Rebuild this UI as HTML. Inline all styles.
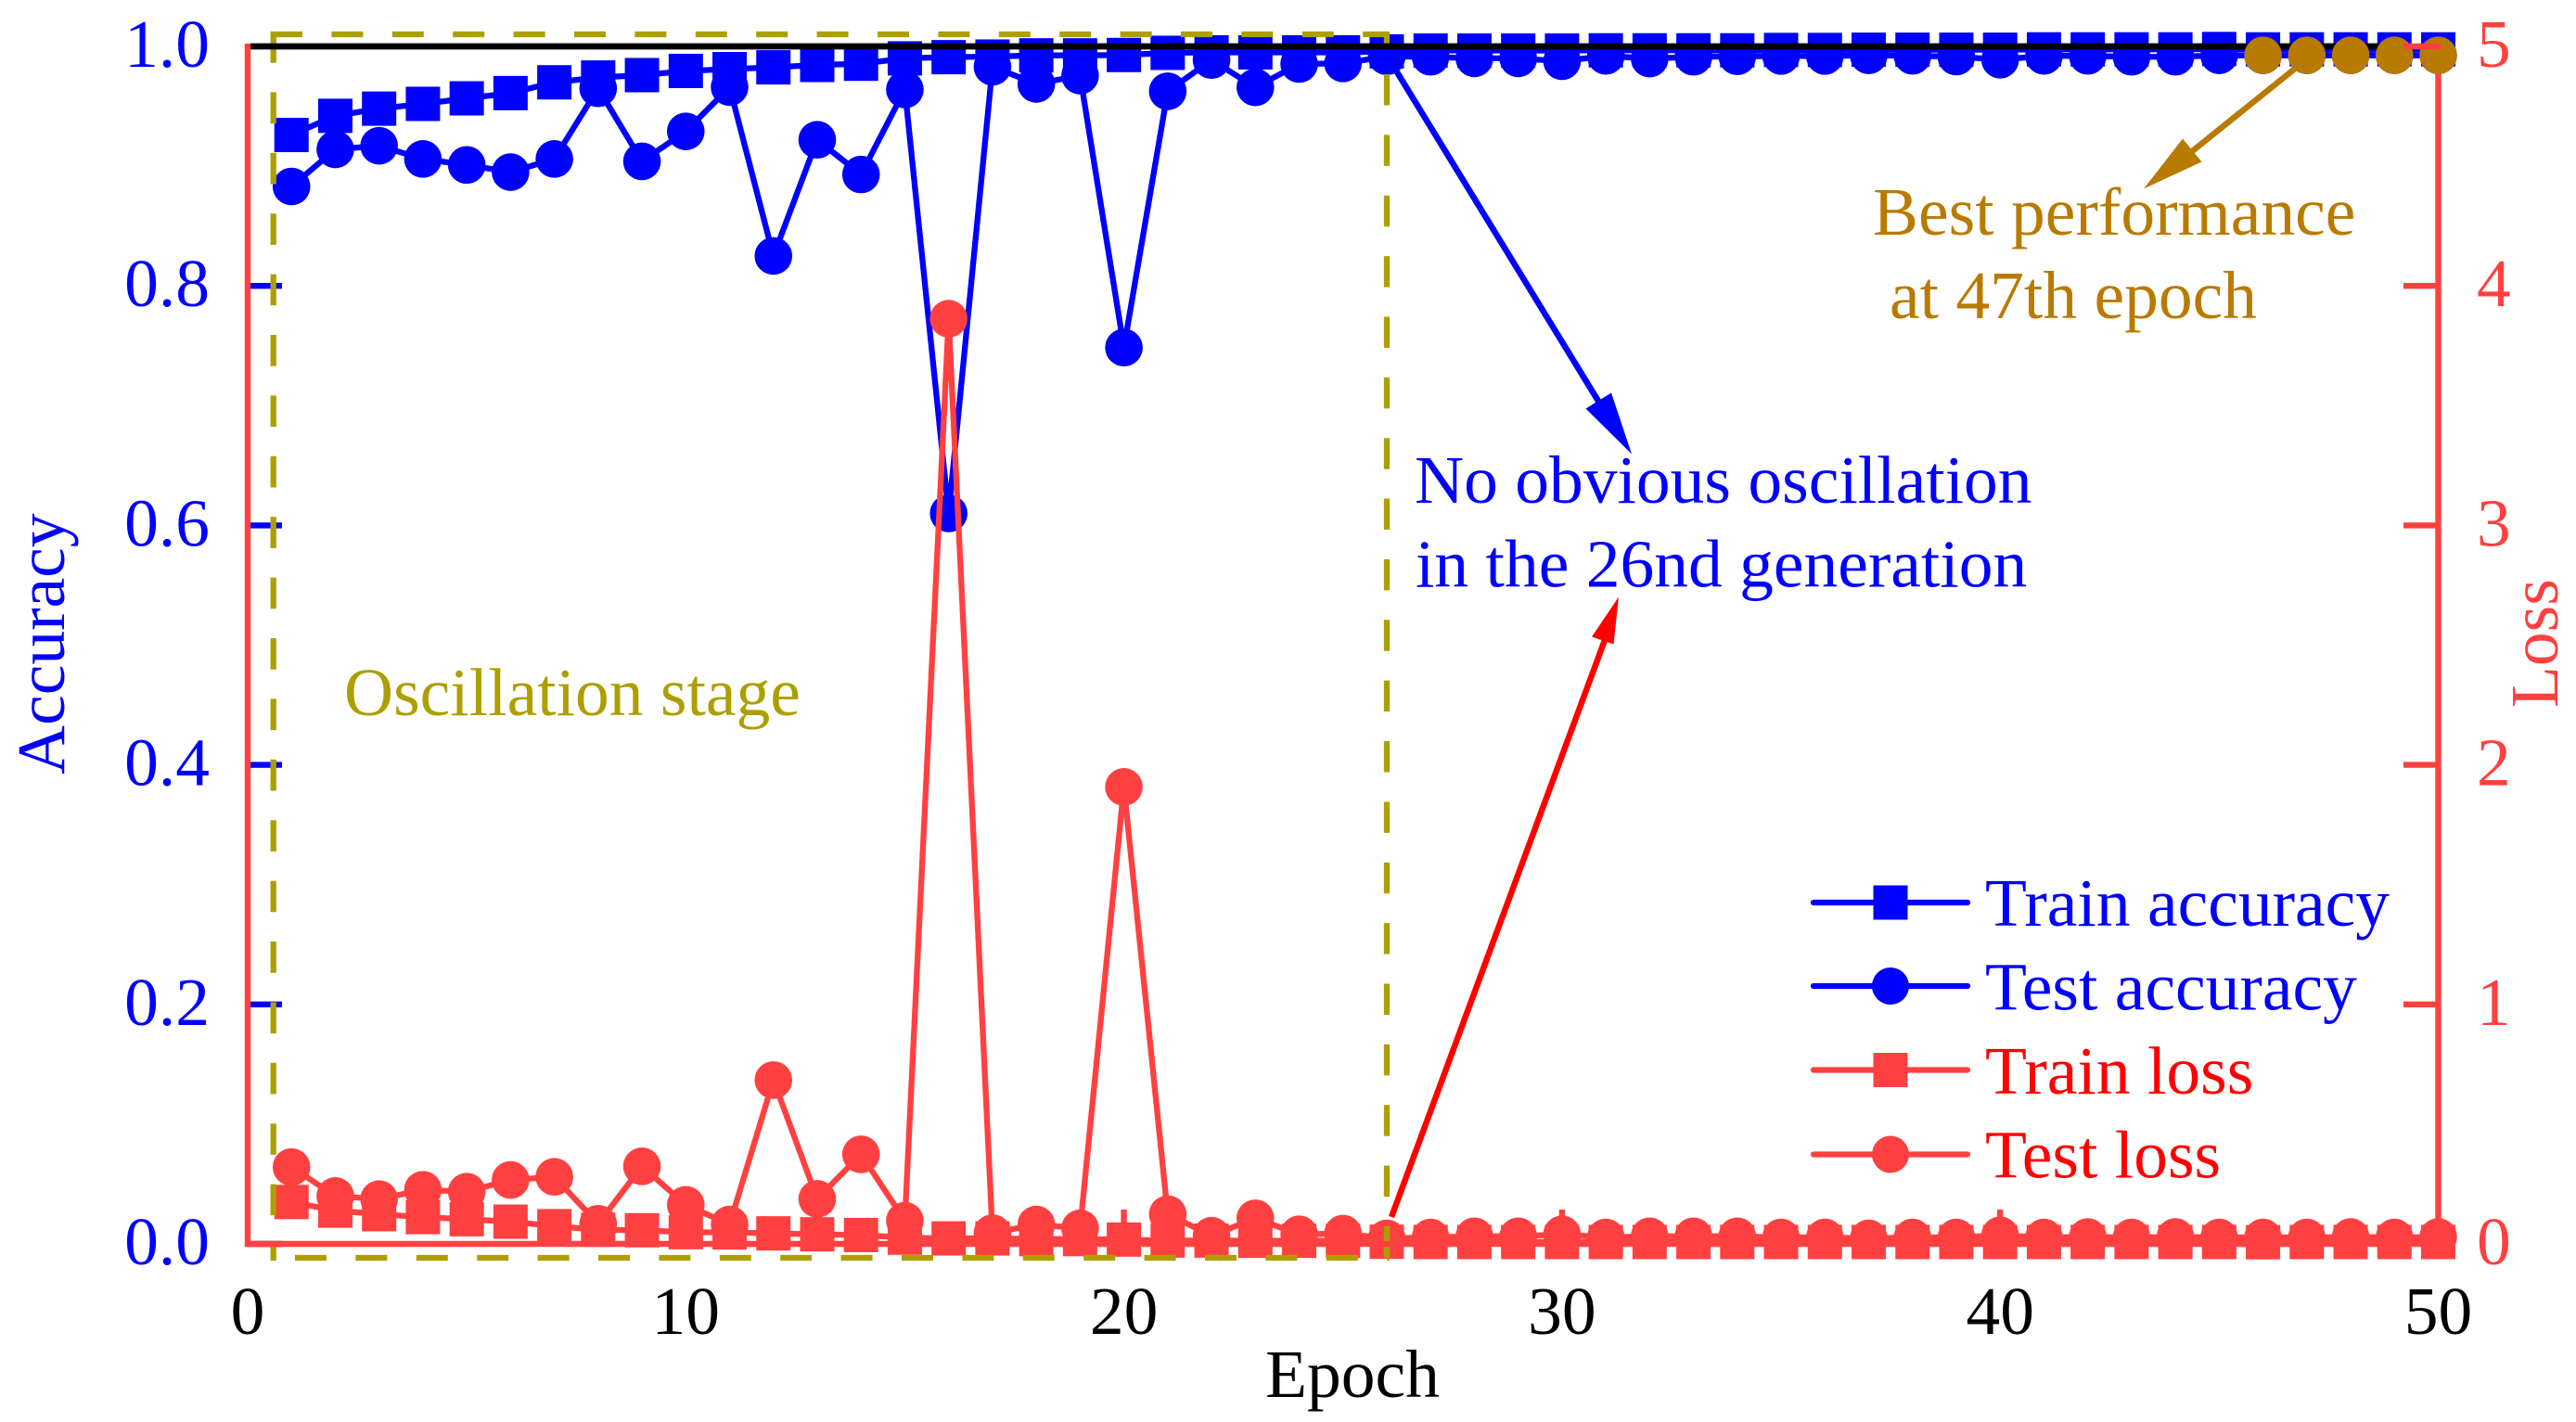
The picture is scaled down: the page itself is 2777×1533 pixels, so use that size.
<!DOCTYPE html>
<html lang="en">
<head>
<meta charset="utf-8">
<title>Accuracy and loss per epoch</title>
<style>
html,body{margin:0;padding:0;background:#fff;}
svg{display:block;font-family:"Liberation Serif","Times New Roman",serif;font-size:73.5px;}
</style>
</head>
<body>
<svg id="chart" xmlns="http://www.w3.org/2000/svg" width="2777" height="1533" viewBox="0 0 2777 1533">
  <rect x="0" y="0" width="2777" height="1533" fill="#fff"/>
  <g id="left-ticks"></g>
  <g id="marks-blue"></g>
  <g id="marks-red"></g>

  <g stroke="#ae9f00" stroke-width="6.3" fill="none">
    <line x1="292" y1="37" x2="1498" y2="37" stroke-dasharray="34 31.4"/>
    <line x1="294.7" y1="34" x2="294.7" y2="1359" stroke-dasharray="33.7 31.7"/>
    <line x1="318" y1="1356" x2="1498" y2="1356" stroke-dasharray="34 31.4"/>
    <line x1="1495" y1="37" x2="1495" y2="1356" stroke-dasharray="33.5 31.87" stroke-dashoffset="22.4"/>
  </g>

  <g id="frame">
    <line x1="270" y1="50" x2="2591" y2="50" stroke="#000" stroke-width="6.8"/>
    <line x1="267" y1="47" x2="267" y2="1344" stroke="#ff4040" stroke-width="6.4"/>
    <line x1="264" y1="1341" x2="2631" y2="1341" stroke="#ff4040" stroke-width="6.4"/>
    <line x1="2628.5" y1="47" x2="2628.5" y2="1344" stroke="#ff4040" stroke-width="6.4"/>
  </g>
  <g id="best-marks"></g>
  <g id="other-ticks"></g>
  <g id="tick-labels"></g>

  <text x="1458" y="1506" text-anchor="middle" fill="#000">Epoch</text>
  <text transform="translate(69 835) rotate(-90)" fill="#0000ff">Accuracy</text>
  <text transform="translate(2757 763) rotate(-90)" fill="#ff4040">Loss</text>

  <text x="371" y="771" fill="#ad9f00">Oscillation stage</text>
  <text x="1525" y="542" fill="#0000ff">No obvious oscillation</text>
  <text x="1526" y="632.5" fill="#0000ff">in the 26nd generation</text>
  <text x="2019" y="253" fill="#b97a00">Best performance</text>
  <text x="2037" y="343" fill="#b97a00">at 47th epoch</text>

  <g>
    <line x1="1497" y1="63" x2="1724" y2="434" stroke="#0000ff" stroke-width="6.5"/>
    <polygon points="1759,489.5 1709.5,440.5 1737,423.5" fill="#0000ff"/>
  </g>
  <g>
    <line x1="1500" y1="1312" x2="1730" y2="690" stroke="#ff0000" stroke-width="6.5"/>
    <polygon points="1745,643.5 1716,686.5 1739.5,694.5" fill="#ff0000"/>
  </g>
  <g>
    <line x1="2474" y1="74" x2="2362" y2="164" stroke="#b97a00" stroke-width="6.5"/>
    <polygon points="2311,203.5 2353,149.5 2373.5,174.5" fill="#b97a00"/>
  </g>

  <g>
    <g>
      <line x1="1955" y1="973" x2="2121" y2="973" stroke="#0000ff" stroke-width="6.2" stroke-linecap="round"/>
      <rect x="2019.5" y="954.5" width="37" height="37" fill="#0000ff"/>
      <text x="2140" y="998" fill="#0000ff">Train accuracy</text>
    </g>
    <g>
      <line x1="1955" y1="1063" x2="2121" y2="1063" stroke="#0000ff" stroke-width="6.2" stroke-linecap="round"/>
      <circle cx="2038" cy="1063" r="20" fill="#0000ff"/>
      <text x="2140" y="1088.5" fill="#0000ff">Test accuracy</text>
    </g>
    <g>
      <line x1="1955" y1="1153.5" x2="2121" y2="1153.5" stroke="#ff4040" stroke-width="6.2" stroke-linecap="round"/>
      <rect x="2019.5" y="1135" width="37" height="37" fill="#ff4040"/>
      <text x="2140" y="1179" fill="#ff0000">Train loss</text>
    </g>
    <g>
      <line x1="1955" y1="1244.5" x2="2121" y2="1244.5" stroke="#ff4040" stroke-width="6.2" stroke-linecap="round"/>
      <circle cx="2038" cy="1244.5" r="20" fill="#ff4040"/>
      <text x="2140" y="1269.5" fill="#ff0000">Test loss</text>
    </g>
  </g>
</svg>

<script>
const epochs = [1,2,3,4,5,6,7,8,9,10,11,12,13,14,15,16,17,18,19,20,21,22,23,24,25,26,27,28,29,30,31,32,33,34,35,36,37,38,39,40,41,42,43,44,45,46,47,48,49,50];
const trainAccuracy = [0.926,0.942,0.948,0.952,0.9566,0.961,0.970,0.974,0.976,0.9795,0.981,0.9825,0.9845,0.9855,0.990,0.991,0.9915,0.9925,0.9925,0.9928,0.9946,0.995,0.995,0.995,0.995,0.9958,0.9965,0.9965,0.9965,0.9965,0.9967,0.9967,0.9967,0.9967,0.997,0.997,0.9972,0.9972,0.9972,0.9972,0.9975,0.9975,0.9975,0.9975,0.9978,0.9975,0.9975,0.9975,0.9975,0.9975];
const testAccuracy = [0.883,0.914,0.917,0.906,0.901,0.895,0.906,0.965,0.904,0.929,0.966,0.825,0.922,0.893,0.964,0.610,0.983,0.9687,0.9756,0.7485,0.9625,0.9886,0.9658,0.9853,0.9858,0.9917,0.9913,0.990,0.990,0.9876,0.9921,0.9898,0.9913,0.9917,0.992,0.992,0.9925,0.9921,0.9915,0.9889,0.9921,0.9921,0.9913,0.9913,0.9925,0.9925,0.9925,0.9925,0.9925,0.9925];
const trainLoss = [0.175,0.139,0.124,0.112,0.103,0.093,0.074,0.059,0.057,0.049,0.048,0.044,0.040,0.037,0.026,0.023,0.023,0.020,0.020,0.018,0.014,0.014,0.013,0.013,0.013,0.009,0.008,0.008,0.008,0.008,0.008,0.008,0.008,0.008,0.008,0.008,0.008,0.008,0.008,0.008,0.008,0.008,0.008,0.008,0.008,0.007,0.008,0.008,0.008,0.008];
const testLoss = [0.321,0.200,0.187,0.226,0.218,0.267,0.280,0.084,0.324,0.163,0.081,0.684,0.188,0.374,0.097,3.863,0.045,0.081,0.065,1.908,0.124,0.034,0.107,0.040,0.043,0.023,0.027,0.032,0.032,0.040,0.027,0.032,0.032,0.032,0.027,0.027,0.023,0.027,0.027,0.036,0.027,0.029,0.027,0.029,0.027,0.027,0.027,0.029,0.027,0.029];
const bestEpochs = [46,47,48,49,50];
const xTicks = [0,10,20,30,40,50];
const accuracyTicks = ["0.0","0.2","0.4","0.6","0.8","1.0"];
const lossTicks = ["0","1","2","3","4","5"];

const NS = 'http://www.w3.org/2000/svg';
const plotLeft = 267, plotRight = 2628.5, plotBottom = 1341, plotTop = 50;
function xScale(e){ return plotLeft + (e / 50) * (plotRight - plotLeft); }
function yAccuracy(v){ return plotBottom - v * (plotBottom - plotTop); }
function yLoss(v){ return plotBottom - (v / 5) * (plotBottom - plotTop); }
function make(tag, attrs, parent){
  const el = document.createElementNS(NS, tag);
  for (const k in attrs) el.setAttribute(k, attrs[k]);
  parent.appendChild(el);
  return el;
}
const BLUE = '#0000ff', CORAL = '#ff4040', BROWN = '#b97a00';
const SQUARE = 37, RADIUS = 20.3, LINE_W = 6.3;

function drawSeries(parent, values, yFn, color, marker, seriesName){
  const pts = values.map(function(v, i){ return xScale(epochs[i]) + ',' + yFn(v); }).join(' ');
  const line = make('polyline', {points: pts, fill: 'none', stroke: color, 'stroke-width': LINE_W, 'stroke-linejoin': 'miter'}, parent);
  
  
  values.forEach(function(v, i){
    const cx = xScale(epochs[i]), cy = yFn(v);
    let m;
    if (marker === 'square') {
      m = make('rect', {x: cx - SQUARE / 2, y: cy - SQUARE / 2, width: SQUARE, height: SQUARE, fill: color}, parent);
    } else {
      m = make('circle', {cx: cx, cy: cy, r: RADIUS, fill: color}, parent);
    }
    
    
  });
}

const leftTicksG = document.getElementById('left-ticks');
const blueG = document.getElementById('marks-blue');
const redG = document.getElementById('marks-red');
const bestG = document.getElementById('best-marks');
const otherTicksG = document.getElementById('other-ticks');
const labelsG = document.getElementById('tick-labels');

accuracyTicks.forEach(function(t){
  const y = yAccuracy(parseFloat(t));
  if (parseFloat(t) < 1) {
    const tk = make('line', {x1: plotLeft, y1: y, x2: plotLeft + 37, y2: y, stroke: BLUE, 'stroke-width': 6.4}, leftTicksG);
    
    
  }
  const lb = make('text', {x: 226, y: y + 22, 'text-anchor': 'end', fill: BLUE}, labelsG);
  lb.textContent = t;
  
  
});

drawSeries(blueG, trainAccuracy, yAccuracy, BLUE, 'square', 'train-accuracy');
drawSeries(blueG, testAccuracy, yAccuracy, BLUE, 'circle', 'test-accuracy');
drawSeries(redG, trainLoss, yLoss, CORAL, 'square', 'train-loss');
drawSeries(redG, testLoss, yLoss, CORAL, 'circle', 'test-loss');

bestEpochs.forEach(function(e){
  const b = make('circle', {cx: xScale(e), cy: yAccuracy(testAccuracy[e - 1]), r: RADIUS, fill: BROWN}, bestG);
  
  
});

xTicks.forEach(function(t){
  const x = xScale(t);
  if (t > 0 && t < 50) {
    const tk = make('line', {x1: x, y1: plotBottom, x2: x, y2: plotBottom - 37, stroke: CORAL, 'stroke-width': 6.4}, otherTicksG);
    
    
  }
  const lb = make('text', {x: x, y: 1438, 'text-anchor': 'middle', fill: '#000'}, labelsG);
  lb.textContent = String(t);
  
  
});

lossTicks.forEach(function(t){
  const y = yLoss(parseFloat(t));
  if (parseFloat(t) > 0) {
    const tk = make('line', {x1: plotRight + 3, y1: y, x2: plotRight - 37.5, y2: y, stroke: CORAL, 'stroke-width': 6.4}, otherTicksG);
    
    
  }
  const lb = make('text', {x: 2670, y: y + 22, fill: CORAL}, labelsG);
  lb.textContent = t;
  
  
});
</script>
</body>
</html>
